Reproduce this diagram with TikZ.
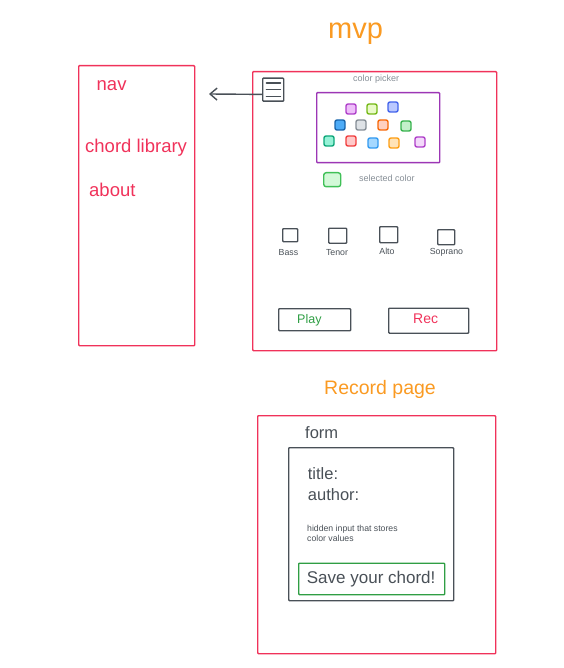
\documentclass[tikz,border=0pt]{standalone}
\usepackage{fontspec}
\setmainfont{Liberation Sans}
\usetikzlibrary{arrows.meta}
\definecolor{exred}{HTML}{F0325A}
\definecolor{exorange}{HTML}{FA9A22}
\definecolor{exgray}{HTML}{495057}
\definecolor{exlight}{HTML}{868E96}
\definecolor{expurple}{HTML}{9C36B5}
\definecolor{exgreen}{HTML}{2F9E44}
\definecolor{sgreen}{HTML}{40C057}
\definecolor{sgreenf}{HTML}{D3F9D8}
% swatch colours
\definecolor{sAs}{HTML}{AE3EC9}\definecolor{sAf}{HTML}{EEBEFA}
\definecolor{sBs}{HTML}{74B816}\definecolor{sBf}{HTML}{E9FAC8}
\definecolor{sCs}{HTML}{4263EB}\definecolor{sCf}{HTML}{BAC8FF}
\definecolor{sDs}{HTML}{1864AB}\definecolor{sDf}{HTML}{4DABF7}
\definecolor{sEs}{HTML}{868E96}\definecolor{sEf}{HTML}{DEE2E6}
\definecolor{sFs}{HTML}{F76707}\definecolor{sFf}{HTML}{FFD0C0}
\definecolor{sGs}{HTML}{37B24D}\definecolor{sGf}{HTML}{C3F0CA}
\definecolor{sHs}{HTML}{0CA678}\definecolor{sHf}{HTML}{96F2D7}
\definecolor{sIs}{HTML}{F03E3E}\definecolor{sIf}{HTML}{FFC9C9}
\definecolor{sJs}{HTML}{339AF0}\definecolor{sJf}{HTML}{A5D8FF}
\definecolor{sKs}{HTML}{FD9E14}\definecolor{sKf}{HTML}{FFE3B8}
\definecolor{sLs}{HTML}{AE3EC9}\definecolor{sLf}{HTML}{F3D9FA}
\newcommand{\fs}[1]{\fontsize{#1pt}{#1pt}\selectfont}
\tikzset{
  box/.style={draw, line width=1.4pt, inner sep=0pt, anchor=north west, rounded corners=0.8pt},
  redbox/.style={box, draw=exred},
  graybox/.style={box, draw=exgray},
  swatch/.style={draw, line width=1.4pt, minimum width=10pt, minimum height=10pt, inner sep=0pt, rounded corners=2pt},
  txt/.style={inner sep=0pt, anchor=base west},
  ctxt/.style={inner sep=0pt, anchor=base},
  iconline/.style={exgray, line width=1.6pt, line cap=round},
}
\begin{document}
\begin{tikzpicture}[x=1pt,y=-1pt]
\useasboundingbox (0,0) rectangle (563,668);
% titles
\node[ctxt, text=exorange] (mvp) at (355.5,39) {\fs{29}mvp};
\node[txt, text=exorange] (rectitle) at (324,394) {\fs{19.5}Record page};
% nav
\node[redbox, minimum width=116pt, minimum height=280pt] (nav) at (78,65) {};
\node[txt, text=exred] (navt) at (96.5,91) {\fs{18.5}nav};
\node[txt, text=exred] (chord) at (85,152.7) {\fs{18.5}chord library};
\node[txt, text=exred] (about) at (89,196.7) {\fs{18.5}about};
% main
\node[redbox, minimum width=244pt, minimum height=279pt] (main) at (252,71) {};
\node[graybox, minimum width=21pt, minimum height=23pt] (menu) at (262,77.5) {};
\draw[iconline] ([xshift=4.5pt,yshift=-5.5pt]menu.north west) -- ([xshift=-4pt,yshift=-5.5pt]menu.north east);
\draw[iconline] ([xshift=4.5pt]menu.west) -- ([xshift=-4pt]menu.east);
\draw[iconline] ([xshift=4.5pt,yshift=5.5pt]menu.south west) -- ([xshift=-4pt,yshift=5.5pt]menu.south east);
\coordinate (navtip) at (209,94);
\draw[exgray, line width=1.4pt, -{Straight Barb[length=7pt,width=12pt,line width=1.4pt]}] ([yshift=-4.7pt]menu.west) -- (navtip);
\node[txt, text=exlight] (cpick) at (353,82) {\fs{9}color picker};
\node[box, draw=expurple, minimum width=123pt, minimum height=70pt] (picker) at (316,92) {};
% swatches
\node[swatch, draw=sAs, fill=sAf] (s1) at (351,109) {};
\node[swatch, draw=sBs, fill=sBf] (s2) at (372,109) {};
\node[swatch, draw=sCs, fill=sCf] (s3) at (393,107) {};
\node[swatch, draw=sDs, fill=sDf] (s4) at (340,125) {};
\node[swatch, draw=sEs, fill=sEf] (s5) at (361,125) {};
\node[swatch, draw=sFs, fill=sFf] (s6) at (383,125) {};
\node[swatch, draw=sGs, fill=sGf] (s7) at (406,126) {};
\node[swatch, draw=sHs, fill=sHf] (s8) at (329,141) {};
\node[swatch, draw=sIs, fill=sIf] (s9) at (351,141) {};
\node[swatch, draw=sJs, fill=sJf] (s10) at (373,143) {};
\node[swatch, draw=sKs, fill=sKf] (s11) at (394,143) {};
\node[swatch, draw=sLs, fill=sLf] (s12) at (420,142) {};
% selected colour
\node[box, draw=sgreen, fill=sgreenf, minimum width=17pt, minimum height=14pt, rounded corners=2.5pt] (sel) at (323,172) {};
\node[txt, text=exlight] (selt) at (359,182) {\fs{9}selected color};
% voices
\node[graybox, minimum width=15pt, minimum height=13pt] (bass) at (282,228) {};
\node[graybox, minimum width=18pt, minimum height=15pt] (tenor) at (328,227.5) {};
\node[graybox, minimum width=18pt, minimum height=16pt] (alto) at (379,226) {};
\node[graybox, minimum width=17pt, minimum height=15pt] (sop) at (437,229) {};
\node[ctxt, text=exgray] (bassl) at (288.5,255) {\fs{8.8}Bass};
\node[ctxt, text=exgray] (tenorl) at (337,255) {\fs{8.8}Tenor};
\node[ctxt, text=exgray] (altol) at (387,254) {\fs{8.8}Alto};
\node[ctxt, text=exgray] (sopl) at (446.5,254.5) {\fs{8.8}Soprano};
% buttons
\node[graybox, minimum width=72pt, minimum height=22pt] (play) at (278,308) {};
\node[txt, text=exgreen] (playt) at (297,323.5) {\fs{12.5}Play};
\node[graybox, minimum width=80pt, minimum height=25pt] (rec) at (388,307.5) {};
\node[txt, text=exred] (rect) at (413,323.5) {\fs{14}Rec};
% record page
\node[redbox, minimum width=238pt, minimum height=238pt] (recpage) at (257,415) {};
\node[txt, text=exgray] (formt) at (305,438.3) {\fs{16.5}form};
\node[graybox, minimum width=165pt, minimum height=153pt] (form) at (288,447) {};
\node[txt, text=exgray] (titlet) at (307.7,479) {\fs{16.5}title:};
\node[txt, text=exgray] (authort) at (307.7,500) {\fs{16.5}author:};
\node[txt, text=exgray] (hid1) at (307,531.7) {\fs{8.7}hidden input that stores};
\node[txt, text=exgray] (hid2) at (307,541.3) {\fs{8.7}color values};
\node[box, draw=exgreen, minimum width=146pt, minimum height=31.5pt] (save) at (298,562.5) {};
\node[txt, text=exgray] (savet) at (306.7,583.3) {\fs{17}Save your chord!};
\end{tikzpicture}
\end{document}
